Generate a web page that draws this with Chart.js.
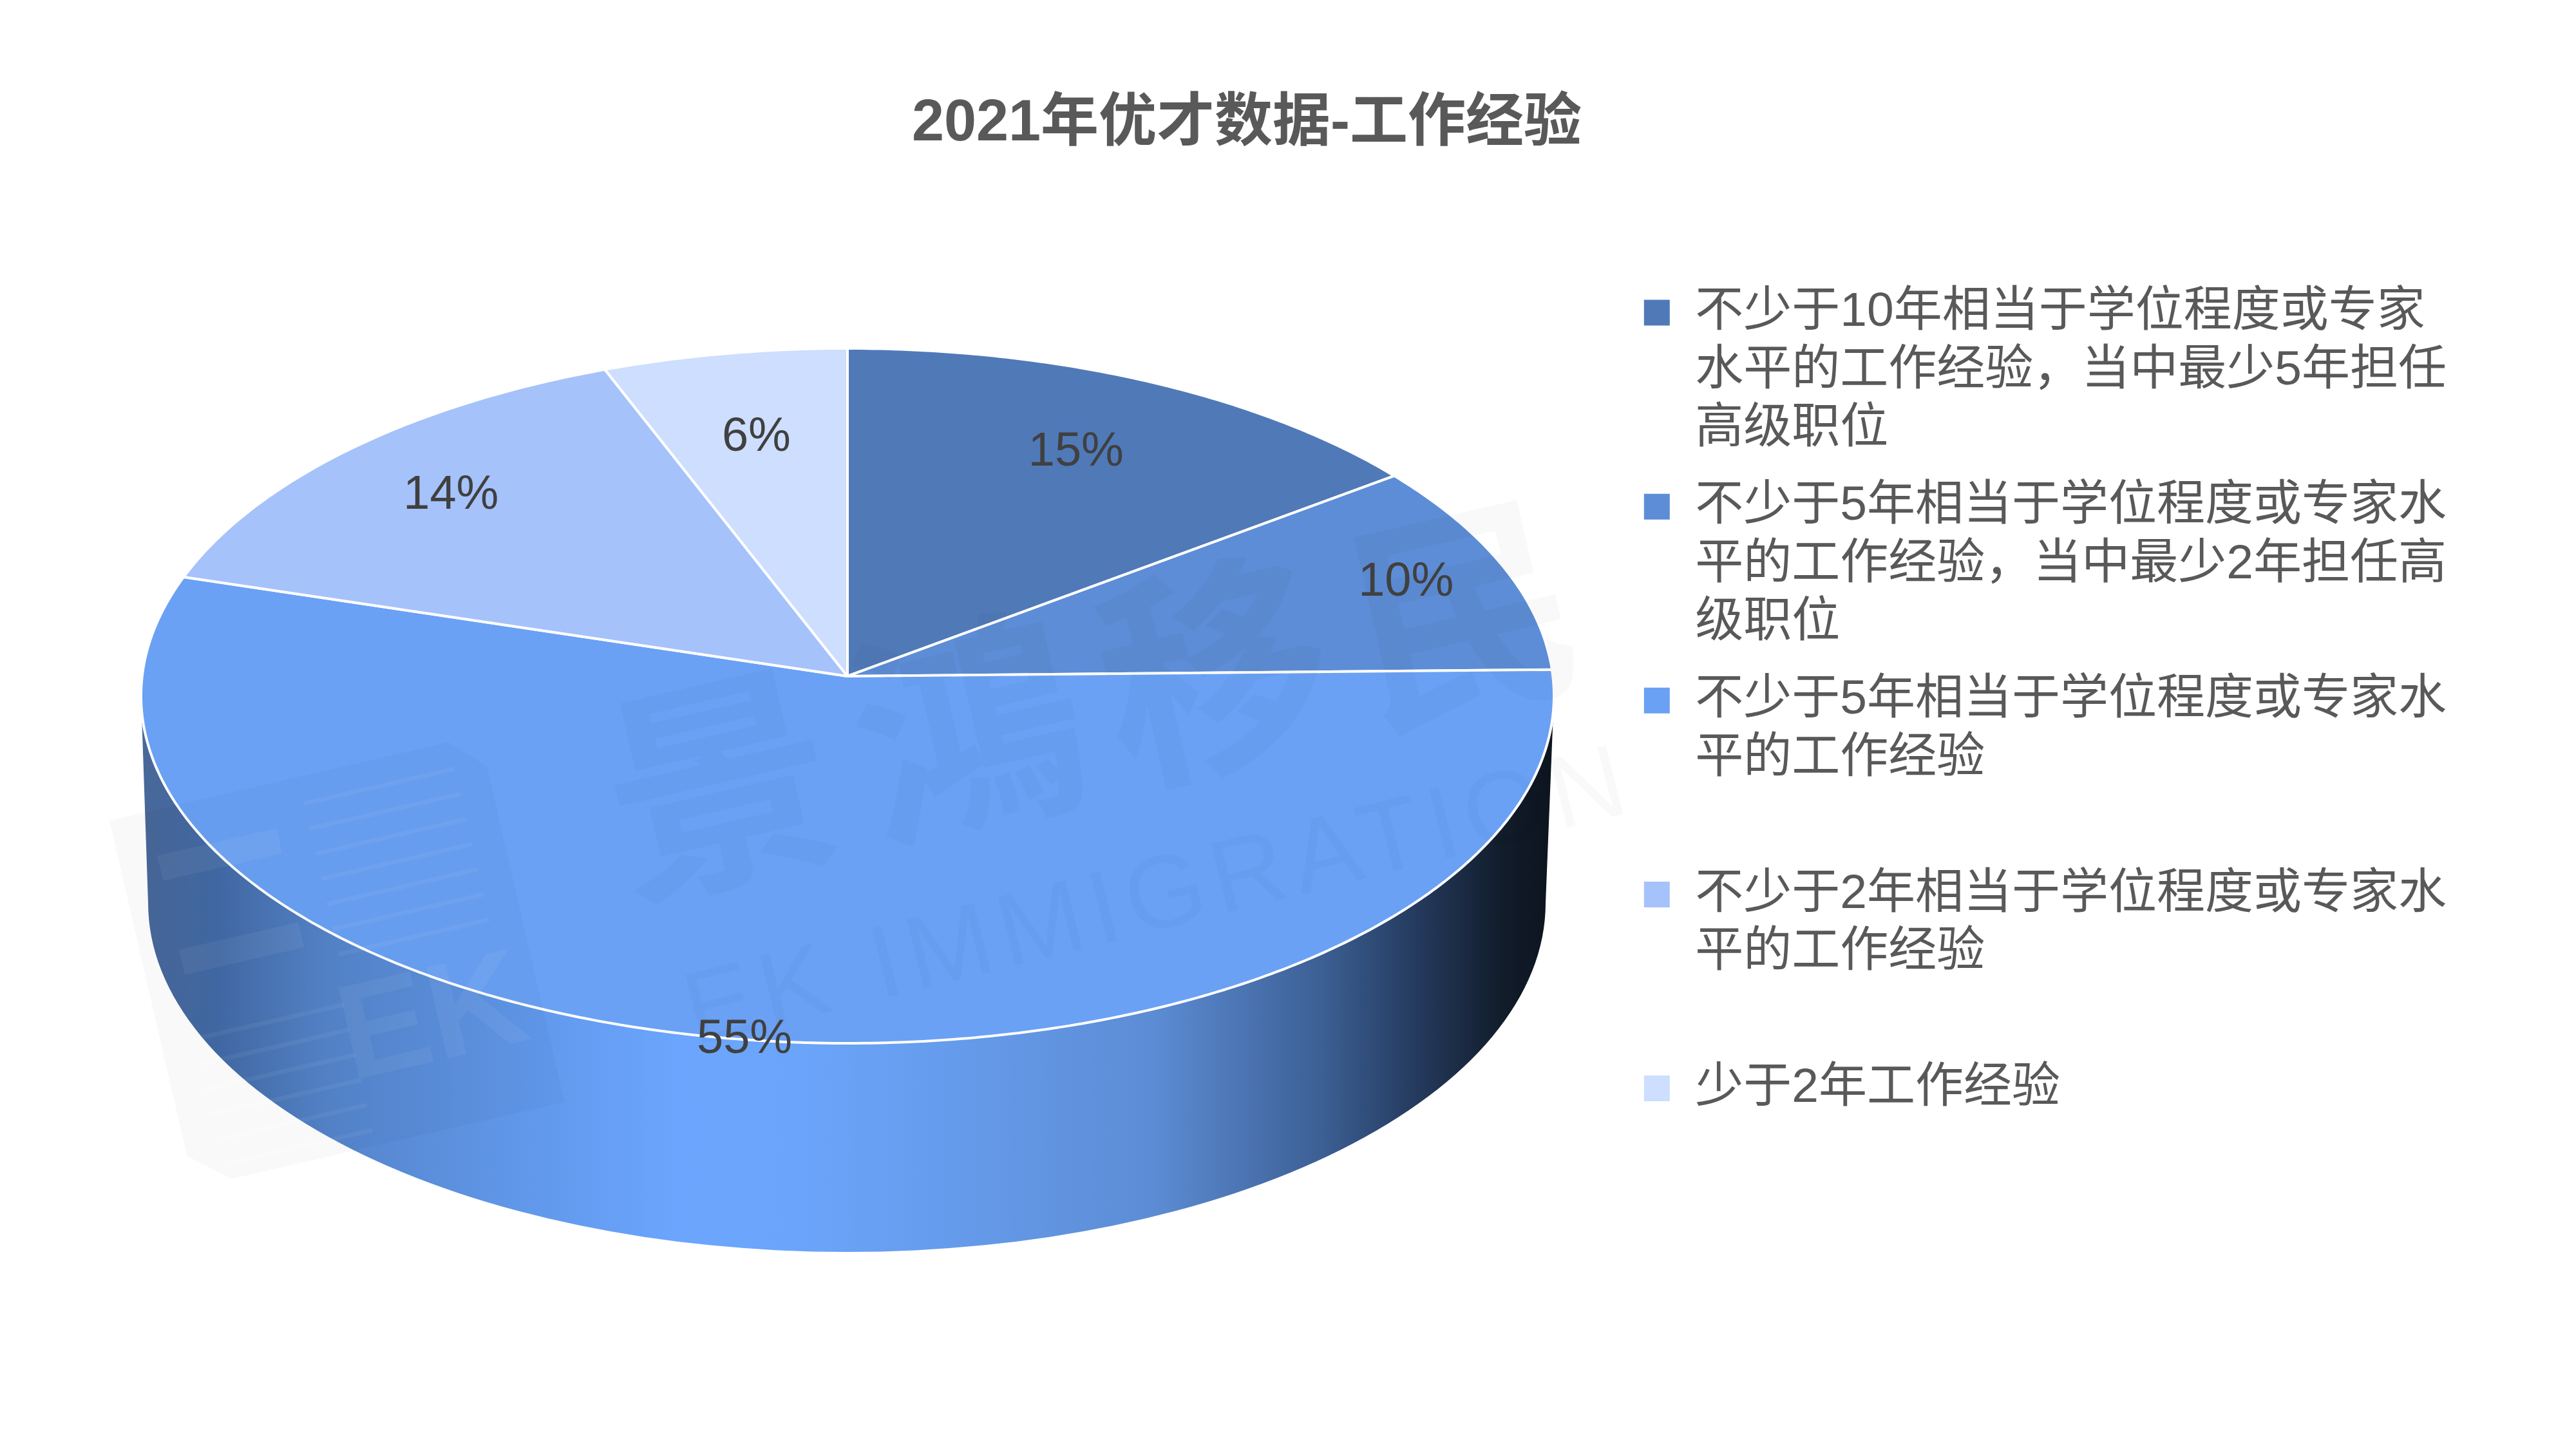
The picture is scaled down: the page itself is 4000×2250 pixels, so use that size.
<!DOCTYPE html>
<html lang="zh">
<head>
<meta charset="utf-8">
<title>2021年优才数据-工作经验</title>
<script src="https://cdn.jsdelivr.net/npm/chart.js@4"></script>
<style>
  html, body { margin: 0; padding: 0; background: #fff; }
  canvas { display: block; }
</style>
</head>
<body>
<canvas id="pie" width="4000" height="2250"></canvas>
<script>
const chartTitle = '2021年优才数据-工作经验';
const categories = [
  ['不少于10年相当于学位程度或专家', '水平的工作经验，当中最少5年担任', '高级职位'],
  ['不少于5年相当于学位程度或专家水', '平的工作经验，当中最少2年担任高', '级职位'],
  ['不少于5年相当于学位程度或专家水', '平的工作经验', ''],
  ['不少于2年相当于学位程度或专家水', '平的工作经验', ''],
  ['少于2年工作经验', '', '']
];
const shares = [14.8, 9.9, 55, 14.4, 5.9];
const sliceColors = ['#5079b8', '#5d8dd6', '#6aa1f4', '#a6c2fb', '#cddeff'];
// how far out along its slice each % label sits (1 = rim)
const labelReach = [0.75, 0.85, 1, 0.79, 0.73];

const FONT = '"Liberation Sans", "Noto Sans CJK SC", sans-serif';

// tilted disc, in canvas px
const disc = { cx: 1316, cy: 1080.5, rx: 1097, ry: 539.5, apex: 30.6 };
const base = { cx: 1315, cy: 1402, rx: 1085, ry: 542 };
const wallStops = [
  [0, '#48689a'], [0.05, '#426aa6'], [0.13, '#5585cb'], [0.25, '#5f95e6'],
  [0.32, '#659ef3'], [0.38, '#6ba5fd'], [0.46, '#6ba5fb'], [0.6, '#6499e8'], [0.72, '#5c8cd4'],
  [0.84, '#3c5f94'], [0.91, '#24395c'], [0.97, '#111c2a'], [1, '#0d1520']
];

// perspective map of the unit circle onto the top of the disc
function project(angle, reach) {
  const u = Math.cos(angle) * reach, v = -Math.sin(angle) * reach;
  const k = disc.apex / disc.ry;
  const w = 1 + k * v;
  return {
    x: disc.cx + disc.rx * Math.sqrt(1 - k * k) * u / w,
    y: disc.cy - (disc.ry * v + disc.apex) / w
  };
}

class TiltedPie extends Chart.PieController {
  draw() {
    const ctx = this.chart.ctx;
    const arcs = this.getMeta().data;

    ctx.save();
    const grad = ctx.createLinearGradient(base.cx - base.rx, 0, base.cx + base.rx, 0);
    wallStops.forEach(s => grad.addColorStop(s[0], s[1]));
    ctx.fillStyle = grad;
    ctx.beginPath();
    ctx.moveTo(disc.cx - disc.rx, disc.cy);
    ctx.lineTo(base.cx - base.rx, base.cy);
    ctx.ellipse(base.cx, base.cy, base.rx, base.ry, 0, Math.PI, 0, true);
    ctx.lineTo(disc.cx + disc.rx, disc.cy);
    ctx.closePath();
    ctx.fill();

    arcs.forEach(arc => {
      const a0 = arc.startAngle, a1 = arc.endAngle;
      const steps = Math.ceil((a1 - a0) / 0.01);
      const centre = project(0, 0);
      ctx.beginPath();
      ctx.moveTo(centre.x, centre.y);
      for (let i = 0; i <= steps; i++) {
        const p = project(a0 + (a1 - a0) * i / steps, 1);
        ctx.lineTo(p.x, p.y);
      }
      ctx.closePath();
      ctx.fillStyle = arc.options.backgroundColor;
      ctx.fill();
      ctx.lineJoin = 'round';
      ctx.lineWidth = arc.options.borderWidth;
      ctx.strokeStyle = arc.options.borderColor;
      ctx.stroke();
    });
    ctx.restore();
  }
}
TiltedPie.id = 'tiltedPie';
TiltedPie.defaults = Chart.PieController.defaults;
Chart.register(TiltedPie);

// faint company mark lying over the whole slide
const watermark = {
  id: 'watermark',
  afterDatasetsDraw(chart) {
    const ctx = chart.ctx;
    ctx.save();
    ctx.fillStyle = 'rgba(0,0,0,0.022)';
    ctx.textAlign = 'center';
    ctx.textBaseline = 'middle';

    ctx.save();
    ctx.translate(1713, 1079);
    ctx.rotate(-13 * Math.PI / 180);
    ctx.font = 'bold 355px "Noto Sans CJK TC"';
    ctx.letterSpacing = '40px';
    ctx.fillText('景鴻移民', 0, 0);
    ctx.restore();

    ctx.save();
    ctx.translate(1801, 1398);
    ctx.rotate(-14 * Math.PI / 180);
    ctx.font = '160px "Liberation Sans"';
    ctx.letterSpacing = '13px';
    ctx.fillText('EK IMMIGRATION', 0, 0);
    ctx.restore();

    // document icon
    ctx.save();
    ctx.translate(170, 1274);
    ctx.rotate(-13 * Math.PI / 180);
    ctx.beginPath();
    ctx.moveTo(0, 0);
    ctx.lineTo(540, 0);
    ctx.lineTo(590, 50);
    ctx.lineTo(590, 585);
    ctx.lineTo(60, 585);
    ctx.lineTo(0, 535);
    ctx.closePath();
    ctx.fill();
    ctx.fillStyle = 'rgba(255,255,255,0.05)';
    for (let y = 39; y < 300; y += 40) ctx.fillRect(300, y, 240, 7);
    for (let y = 357; y < 560; y += 40) ctx.fillRect(50, y, 240, 7);
    ctx.fillRect(60, 70, 190, 40);
    ctx.fillRect(60, 220, 190, 40);
    ctx.font = 'bold 210px "Liberation Sans"';
    ctx.fillText('EK', 420, 420);
    ctx.restore();
    ctx.restore();
  }
};

const percentLabels = {
  id: 'percentLabels',
  afterDatasetsDraw(chart) {
    const ctx = chart.ctx;
    ctx.save();
    ctx.font = '74px ' + FONT;
    ctx.fillStyle = '#404040';
    ctx.textAlign = 'center';
    ctx.textBaseline = 'middle';
    chart.getDatasetMeta(0).data.forEach((arc, i) => {
      const p = project((arc.startAngle + arc.endAngle) / 2, labelReach[i]);
      ctx.fillText(Math.round(shares[i]) + '%', p.x, p.y);
    });
    ctx.restore();
  }
};

new Chart(document.getElementById('pie').getContext('2d'), {
  type: 'tiltedPie',
  data: {
    labels: categories,
    datasets: [{
      data: shares,
      backgroundColor: sliceColors,
      borderColor: '#ffffff',
      borderWidth: 4
    }]
  },
  plugins: [watermark, percentLabels],
  options: {
    responsive: false,
    animation: false,
    devicePixelRatio: 1,
    layout: { padding: { left: 63, right: 191, top: 0, bottom: 0 } },
    plugins: {
      tooltip: { enabled: false },
      title: {
        display: true,
        text: chartTitle,
        color: '#595959',
        font: { family: FONT, size: 90, weight: 'bold', lineHeight: 1.2 },
        padding: { top: 139, bottom: 171 }
      },
      legend: {
        display: true,
        position: 'right',
        align: 'start',
        fullSize: false,
        labels: {
          color: '#595959',
          boxWidth: 44,
          boxHeight: 44,
          padding: 30,
          font: { family: FONT, size: 75, lineHeight: 1.205 }
        }
      }
    }
  }
});
</script>
</body>
</html>
